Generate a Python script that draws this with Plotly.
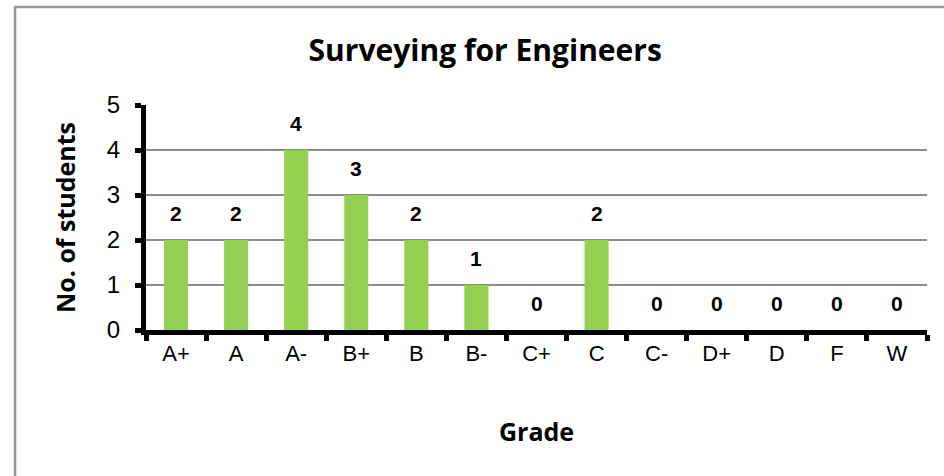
import plotly.graph_objects as go

grades = ["A+", "A", "A-", "B+", "B", "B-", "C+", "C", "C-", "D+", "D", "F", "W"]
students = [2, 2, 4, 3, 2, 1, 0, 2, 0, 0, 0, 0, 0]
y_ticks = [0, 1, 2, 3, 4, 5]

TITLE_FONT = "Open Sans, Lato, sans-serif"
LABEL_FONT = "Liberation Sans, Arial, sans-serif"

fig = go.Figure(go.Bar(x=grades, y=students, marker=dict(color="#92D050", line=dict(width=0)),
                       hoverinfo="x+y"))

for g, v in zip(grades, students):
    fig.add_annotation(x=g, y=v, text=f"<b>{v}</b>", showarrow=False, yshift=27,
                       font=dict(family=LABEL_FONT, size=21, color="black"))

fig.update_layout(
    width=944, height=476,
    margin=dict(l=146, r=17, t=105, b=146),
    paper_bgcolor="white", plot_bgcolor="white",
    bargap=0.6,
    showlegend=False,
    title=dict(text="<b>Surveying for Engineers</b>", x=0.514, xanchor="center",
               y=0.894, yanchor="middle",
               font=dict(family=TITLE_FONT, size=30, color="black")),
    xaxis=dict(
        showline=True, linecolor="black", linewidth=5,
        ticks="outside", ticklen=6, tickwidth=5, tickcolor="black",
        tickson="boundaries", ticklabelstandoff=0,
        tickfont=dict(family=LABEL_FONT, size=22, color="black"),
        title=dict(text="<b>Grade</b>", standoff=60,
                   font=dict(family=TITLE_FONT, size=25, color="black")),
        showgrid=False, zeroline=False,
    ),
    yaxis=dict(
        range=[0, 5], tickvals=y_ticks,
        showline=True, linecolor="black", linewidth=5,
        ticks="outside", ticklen=6, tickwidth=5, tickcolor="black",
        ticklabelstandoff=10,
        tickfont=dict(family=LABEL_FONT, size=24, color="black"),
        showgrid=True, gridcolor="#8c8c8c", gridwidth=1.5,
        zeroline=False,
        title=dict(text="<b>No. of students</b>", standoff=26,
                   font=dict(family=TITLE_FONT, size=25, color="black")),
    ),
    shapes=[dict(type="rect", xref="paper", yref="paper",
                 x0=-0.1677, x1=1.04, y0=-0.70, y1=1.4356,
                 line=dict(color="#999999", width=2.5), fillcolor="rgba(0,0,0,0)", layer="below")],
)

fig.write_html("out.html", config={"displayModeBar": False},
               post_script="document.body.style.margin='0';document.body.style.overflow='hidden';")
